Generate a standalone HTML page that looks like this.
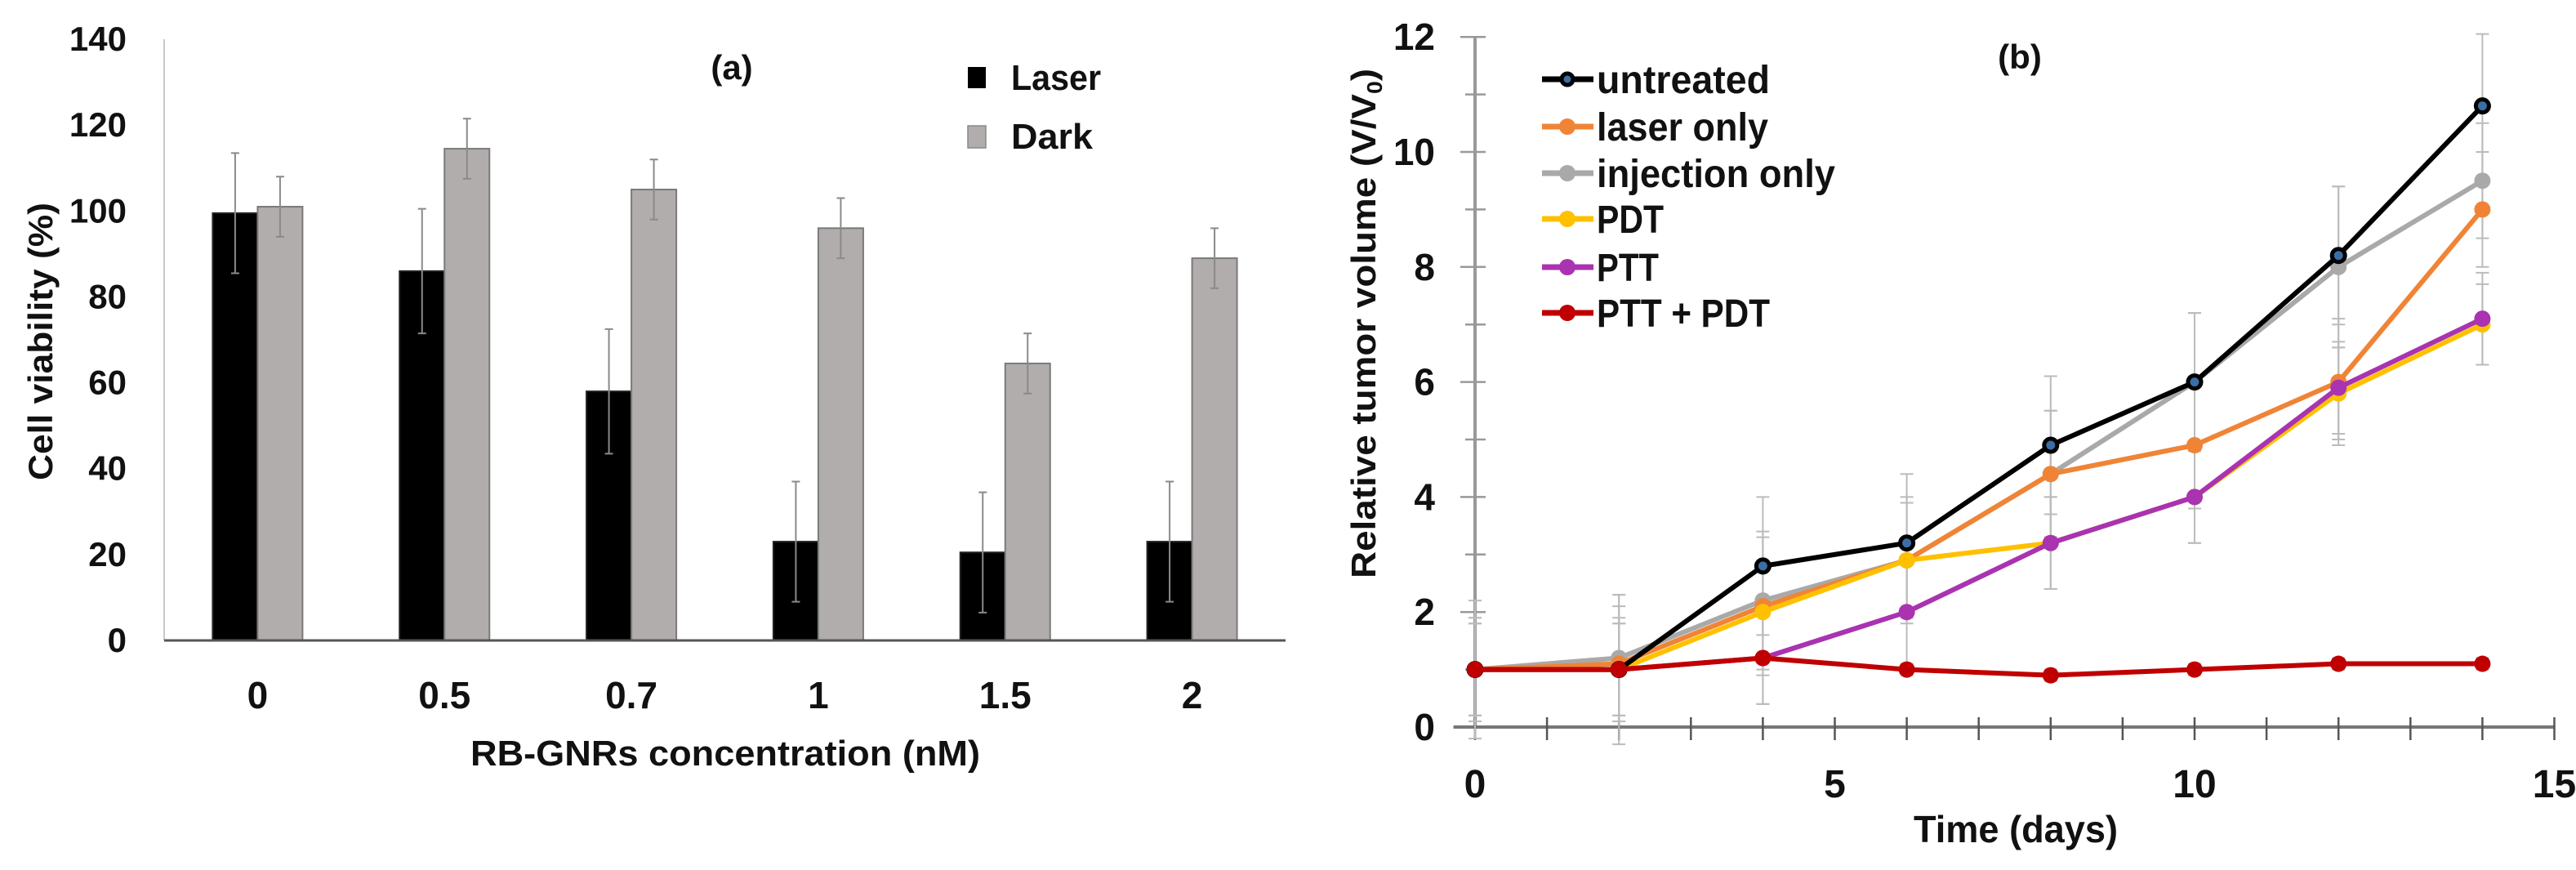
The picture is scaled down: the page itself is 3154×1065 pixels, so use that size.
<!DOCTYPE html>
<html><head><meta charset="utf-8">
<style>
html,body{margin:0;padding:0;background:#fff;}
svg{display:block;}
text{font-family:"Liberation Sans",sans-serif;fill:#111;}
</style></head>
<body>
<svg id="fig" width="3154" height="1065" viewBox="0 0 3154 1065" xmlns="http://www.w3.org/2000/svg">
<g id="chartA"></g>
<g id="chartB"></g>
</svg>
<script>
// ---- Chart (a) data ----
const catsA = ["0","0.5","0.7","1","1.5","2"];
const laserVals = [99.5,86,58,23,20.5,23];
const laserErr = [14,14.5,14.5,14,14,14];
const darkVals = [101,114.5,105,96,64.5,89];
const darkErr = [7,7,7,7,7,7];
const yTicksA = [0,20,40,60,80,100,120,140];

// ---- Chart (b) data ----
const daysB = [0,2,4,6,8,10,12,14];
const xTicksB = [0,5,10,15];
const yTicksB = [0,2,4,6,8,10,12];
const seriesNames = ["untreated","laser only","injection only","PDT","PTT","PTT + PDT"];
const untreatedVals = [1,1,2.8,3.2,4.9,6.0,8.2,10.8];
const laserOnlyVals = [1,1.1,2.1,2.9,4.4,4.9,6.0,9.0];
const injectionVals = [1,1.2,2.2,2.9,4.4,6.0,8.0,9.5];
const pdtVals = [1,1,2.0,2.9,3.2,4.0,5.8,7.0];
const pttVals = [1,1,1.2,2.0,3.2,4.0,5.9,7.1];
const comboVals = [1,1,1.2,1.0,0.9,1.0,1.1,1.1];
const untreatedErr = [0.8,1.3,1.2,1.2,1.2,1.2,1.2,1.25];
const laserOnlyErr = [0.9,1.0,1.2,1.1,1.1,1.1,1.1,1.0];
const injectionErr = [1.2,1.1,1.2,1.0,1.1,1.2,1.4,1.0];
const pdtErr = [0.9,0.9,0.8,1.0,0.8,0.8,0.8,0.7];
const pttErr = [0.8,0.8,0.8,0.9,0.8,0.8,0.8,0.8];
const comboErr = [0.8,0.8,0.8,0.1,0.1,0.1,0.1,0.1];

const NS="http://www.w3.org/2000/svg";
function mk(tag,attrs,parent){const e=document.createElementNS(NS,tag);for(const k in attrs)e.setAttribute(k,attrs[k]);parent.appendChild(e);return e;}

// ---- Chart (a) ----
(function(){
const g=document.getElementById('chartA');
const x0=201,x1=1574,yb=784,yt=48;
const band=(x1-x0)/catsA.length, bw=55;
const yA=v=>yb-(v-0)/(140-0)*(yb-yt);
const xc=i=>x0+band*(i+0.5);
let ax=mk('line',{x1:x0,y1:yt,x2:x0,y2:yb,stroke:'#c8c8c8','stroke-width':2},g);

yTicksA.forEach(v=>{
  const t=mk('text',{x:155,y:yA(v)+14,'text-anchor':'end','font-size':42,'font-weight':'bold'},g);
  
  t.textContent=v;
});
catsA.forEach((c,i)=>{
  const lx=xc(i)-bw, dx=xc(i);
  const r1=mk('rect',{x:lx,y:yA(laserVals[i]),width:bw,height:yb-yA(laserVals[i]),fill:'#000',stroke:'#222','stroke-width':2},g);
  
  const r2=mk('rect',{x:dx,y:yA(darkVals[i]),width:bw,height:yb-yA(darkVals[i]),fill:'#b0adac',stroke:'#7a7a7a','stroke-width':2},g);
  
  [[lx+bw/2,laserVals[i],laserErr[i]],[dx+bw/2,darkVals[i],darkErr[i]]].forEach(([cx,v,e])=>{
    const eb=mk('path',{d:`M${cx},${yA(v+e)}V${yA(v-e)}M${cx-5},${yA(v+e)}h10M${cx-5},${yA(v-e)}h10`,stroke:'#8a8a8a','stroke-width':2,fill:'none'},g);
    
  });
  const t=mk('text',{x:xc(i),y:867,'text-anchor':'middle','font-size':46,'font-weight':'bold'},g);
  
  t.textContent=c;
});
let bx=mk('line',{x1:x0,y1:yb,x2:x1,y2:yb,stroke:'#555','stroke-width':3},g);

let xt=mk('text',{x:888,y:937,'text-anchor':'middle','font-size':44,'font-weight':'bold',textLength:624,lengthAdjust:'spacingAndGlyphs'},g);

xt.textContent='RB-GNRs concentration (nM)';
let yt2=mk('text',{x:0,y:0,'text-anchor':'middle','font-size':42,'font-weight':'bold',textLength:340,lengthAdjust:'spacingAndGlyphs',transform:'translate(64,418) rotate(-90)'},g);

yt2.textContent='Cell viability (%)';
let pl=mk('text',{x:896,y:97,'text-anchor':'middle','font-size':42,'font-weight':'bold'},g);

pl.textContent='(a)';
let l1=mk('rect',{x:1185,y:82,width:22,height:26,fill:'#000'},g);

let lt1=mk('text',{x:1238,y:110,'font-size':44,'font-weight':'bold',textLength:110,lengthAdjust:'spacingAndGlyphs'},g);

lt1.textContent='Laser';
let l2=mk('rect',{x:1185,y:154,width:22,height:27,fill:'#b0adac',stroke:'#888','stroke-width':1.5},g);

let lt2=mk('text',{x:1238,y:182,'font-size':44,'font-weight':'bold',textLength:100,lengthAdjust:'spacingAndGlyphs'},g);

lt2.textContent='Dark';
})();

// ---- Chart (b) ----
(function(){
const g=document.getElementById('chartB');
const X=v=>1806+v*88.1;
const Y=v=>890-v*70.4;
let ya=mk('line',{x1:X(0),y1:Y(12),x2:X(0),y2:Y(0),stroke:'#999','stroke-width':4},g);

for(let v=0;v<=12;v++){
  const tk=mk('line',{x1:X(0)-(v%2?12:18),y1:Y(v),x2:X(0)+13,y2:Y(v),stroke:'#999','stroke-width':2.5},g);
  
}
yTicksB.forEach(v=>{
  const t=mk('text',{x:1757,y:Y(v)+16,'text-anchor':'end','font-size':46,'font-weight':'bold'},g);
  
  t.textContent=v;
});
let xa=mk('line',{x1:X(-0.3),y1:Y(0),x2:X(15),y2:Y(0),stroke:'#777','stroke-width':4},g);

for(let v=0;v<=15;v++){
  const tk=mk('line',{x1:X(v),y1:Y(0)-12,x2:X(v),y2:Y(0)+16,stroke:'#555','stroke-width':2.5},g);
  
}
xTicksB.forEach(v=>{
  const t=mk('text',{x:X(v),y:976,'text-anchor':'middle','font-size':48,'font-weight':'bold'},g);
  
  t.textContent=v;
});
const vals=[untreatedVals,laserOnlyVals,injectionVals,pdtVals,pttVals,comboVals];
const errs=[untreatedErr,laserOnlyErr,injectionErr,pdtErr,pttErr,comboErr];
const cols=['#000','#f08436','#a9a9a9','#ffc000','#a933b0','#c00000'];
vals.forEach((s,k)=>{
  s.forEach((v,i)=>{
    const e=errs[k][i],cx=X(daysB[i]);
    const eb=mk('path',{d:`M${cx},${Y(v+e)}V${Y(v-e)}M${cx-8},${Y(v+e)}h16M${cx-8},${Y(v-e)}h16`,stroke:'#bbb','stroke-width':2,fill:'none'},g);
    
  });
});
const order=[2,1,3,4,0,5];
order.forEach(k=>{
  const s=vals[k];
  const d=s.map((v,i)=>(i?'L':'M')+X(daysB[i])+','+Y(v)).join('');
  const p=mk('path',{d:d,stroke:cols[k],'stroke-width':6,fill:'none','stroke-linejoin':'round'},g);
  
  s.forEach((v,i)=>{
    const c=mk('circle',{cx:X(daysB[i]),cy:Y(v),r:k===0?8:10,fill:k===0?'#3a6ea5':cols[k],stroke:k===0?'#000':'none','stroke-width':k===0?5:0},g);
    
  });
});
const ly=[97,155,212,268,327,383];
const lw=[212,210,292,82,76,212];
seriesNames.forEach((n,k)=>{
  const ln=mk('line',{x1:1888,y1:ly[k],x2:1951,y2:ly[k],stroke:cols[k],'stroke-width':7},g);
  
  const c=mk('circle',{cx:1919,cy:ly[k],r:k===0?7:10,fill:k===0?'#3a6ea5':cols[k],stroke:k===0?'#000':'none','stroke-width':k===0?5:0},g);
  
  const t=mk('text',{x:1955,y:ly[k]+17,'font-size':48,'font-weight':'bold',textLength:lw[k],lengthAdjust:'spacingAndGlyphs'},g);
  
  t.textContent=n;
});
let xt=mk('text',{x:2468,y:1031,'text-anchor':'middle','font-size':46,'font-weight':'bold',textLength:250,lengthAdjust:'spacingAndGlyphs'},g);

xt.textContent='Time (days)';
let yt=mk('text',{x:0,y:0,'text-anchor':'middle','font-size':42,'font-weight':'bold',textLength:624,lengthAdjust:'spacingAndGlyphs',transform:'translate(1684,396) rotate(-90)'},g);

yt.innerHTML='Relative tumor volume (V/V<tspan font-size="26" dy="8">0</tspan><tspan dy="-8">)</tspan>';
let pl=mk('text',{x:2473,y:84,'text-anchor':'middle','font-size':42,'font-weight':'bold'},g);

pl.textContent='(b)';
})();
</script>
</body></html>
